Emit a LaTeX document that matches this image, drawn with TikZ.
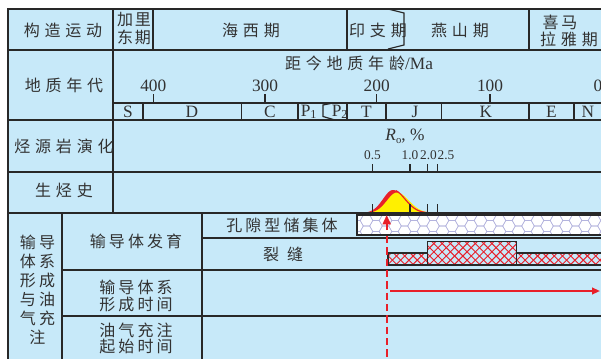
\documentclass[tikz,border=0pt]{standalone}
\usepackage{fontspec}
\setmainfont{Liberation Serif}
\newfontfamily\cjkA[LetterSpace=30]{Noto Sans CJK SC}
\newfontfamily\cjkB[LetterSpace=19]{Noto Sans CJK SC}
\newfontfamily\cjkC[LetterSpace=12]{Noto Sans CJK SC}
\usetikzlibrary{arrows.meta}
\definecolor{bg}{RGB}{199,233,249}
\definecolor{ln}{RGB}{40,40,40}
\definecolor{txt}{RGB}{50,50,50}
\definecolor{rd}{RGB}{232,32,42}
\definecolor{yl}{RGB}{255,240,0}
\definecolor{hx}{RGB}{180,180,222}
\tikzset{
 cnA/.style={font=\cjkA\fontsize{12}{14}\selectfont, text=txt, inner sep=0pt, align=center},
 cnB/.style={font=\cjkB\fontsize{12}{14}\selectfont, text=txt, inner sep=0pt, align=center},
 cnC/.style={font=\cjkC\fontsize{12}{13.5}\selectfont, text=txt, inner sep=0pt, align=center},
 lat/.style={font=\fontsize{13}{13}\selectfont, text=txt, inner sep=0pt},
 sml/.style={font=\fontsize{10}{10}\selectfont, text=txt, inner sep=0pt},
 grid/.style={draw=ln, line width=0.9pt},
 tickln/.style={draw=ln, line width=0.9pt},
 hatchln/.style={draw=rd, line width=0.7pt},
}
\begin{document}
\begin{tikzpicture}[x=0.75pt,y=-0.75pt]
\clip (0,0) rectangle (601,358);
\fill[white] (0,0) rectangle (601,358);
\fill[bg] (8,9) rectangle (605,362);

% curves (generation history)
\fill[rd] plot[domain=358:393, samples=50, smooth] (\x,{213-23*exp(-((\x-393)^2)/(2*100))})
  -- plot[domain=393:432, samples=50, smooth] (\x,{213-23*exp(-((\x-393)^2)/(2*144))}) -- cycle;
\fill[yl] plot[domain=365:397, samples=50, smooth] (\x,{213-20.5*exp(-((\x-397)^2)/(2*100))})
  -- plot[domain=397:440, samples=50, smooth] (\x,{213-20.5*exp(-((\x-397)^2)/(2*144))}) -- cycle;
\draw[rd, line width=0.9pt] plot[domain=396:432, samples=40, smooth] (\x,{213-23*exp(-((\x-393)^2)/(2*144))});

% grid
\draw[grid] (8,362) -- (8,9) -- (605,9);
\draw[grid] (8,50) -- (605,50);
\draw[grid] (8,120) -- (605,120);
\draw[grid] (8,172) -- (605,172);
\draw[grid] (8,213) -- (605,213);
\draw[grid] (113,9) -- (113,213);
\draw[grid] (153,9) -- (153,50);
\draw[grid] (347,9) -- (347,50);
\draw[grid] (388,9) -- (404,13) -- (404,45) -- (388,49);
\draw[grid] (529,9) -- (529,50);
\draw[grid] (113,103) -- (605,103);
\foreach \xx in {143,241.7,298,347,386,441.7,529,574} \draw[grid] (\xx,103) -- (\xx,120);
\draw[grid] (333,103) -- (323,105) -- (323,116.5) -- (335,120);
\draw[grid] (62,213) -- (62,362);
\draw[grid] (202,213) -- (202,362);
\draw[grid] (202,238) -- (605,238);
\draw[grid] (62,270) -- (605,270);
\draw[grid] (62,316) -- (605,316);

% ticks
\foreach \xx in {153.3,265,376.7,490} \draw[tickln] (\xx,94) -- (\xx,103);
\foreach \xx in {372.7,410,427.7,437.3} {
  \draw[tickln] (\xx,164) -- (\xx,172);
  \draw[tickln] (\xx,204) -- (\xx,213);
}

% porous reservoir (honeycomb)
\begin{scope}
\clip (357,215) rectangle (605,235);
\fill[white] (357,215) rectangle (605,235);
\foreach \i in {0,...,28} {
  \foreach \j in {-1,0,1,2} {
    \pgfmathsetmacro\cx{357+\i*9.5}
    \pgfmathsetmacro\cy{215+\j*11+mod(\i,2)*5.5}
    \draw[hx, line width=0.4pt] ({\cx-6.33},\cy) -- ({\cx-3.17},{\cy-5.5}) -- ({\cx+3.17},{\cy-5.5}) -- ({\cx+6.33},\cy) -- ({\cx+3.17},{\cy+5.5}) -- ({\cx-3.17},{\cy+5.5}) -- cycle;
  }
}
\end{scope}
\draw[grid] (605,215) -- (357,215) -- (357,235) -- (605,235);

% fractures (cross-hatch)
\begin{scope}
\clip (388,253) rectangle (605,265) (427.7,241.3) rectangle (516.7,265);
\foreach \k in {340,348.3,...,640} {
  \draw[hatchln] (\k,241) -- (\k+30,271);
  \draw[hatchln] (\k,271) -- (\k+30,241);
}
\end{scope}
\draw[grid] (388,253) -- (427.7,253) -- (427.7,241.3) -- (516.7,241.3) -- (516.7,253) -- (605,253);
\draw[grid] (605,265) -- (388,265) -- cycle;
\draw[grid] (388,253) -- (388,265);
\draw[grid] (427.7,253) -- (427.7,265);
\draw[grid] (516.7,253) -- (516.7,265);

% arrows
\coordinate (vtip) at (386.7,215);
\coordinate (vsol) at (386.7,230);
\coordinate (vdash) at (386.7,236);
\coordinate (vend) at (386.7,362);
\coordinate (hstart) at (390,291);
\coordinate (htip) at (600,291);
\draw[rd, line width=1.5pt, -{Triangle[length=7pt,width=6pt]}] (vsol) -- (vtip);
\draw[rd, line width=1.5pt, dash pattern=on 5.5pt off 3pt] (vdash) -- (vend);
\draw[rd, line width=1.4pt, -{Triangle[length=6pt,width=5pt]}] (hstart) -- (htip);

% texts row 1
\node[cnA] (gz) at (63,30) {构造运动};
\node[cnC, font=\cjkC\fontsize{12}{13.5}\selectfont] (jld) at (134,28.5) {加里\\东期};
\node[cnA] (hxq) at (251,30) {海西期};
\node[cnA] (yzq) at (378,30) {印支期};
\node[cnA] (ysq) at (460,30) {燕山期};
\node[cnA] (xm1) at (560,22) {喜\kern2pt 马};
\node[cnA] (xm2) at (569,39.5) {拉雅期};
% row 2
\node[cnA] (dz) at (64,85.5) {地质年代};
\node[cnA] (jl) at (359,63.5) {距今地质年龄{\rmfamily\fontsize{13}{13}\selectfont /Ma}};
\node[lat] (a400) at (153.3,86) {400};
\node[lat] (a300) at (265,86) {300};
\node[lat] (a200) at (376.7,86) {200};
\node[lat] (a100) at (490,86) {100};
\node[lat] (a0) at (598,86) {0};
\node[lat] (pS) at (128,112) {S};
\node[lat] (pD) at (192,112) {D};
\node[lat] (pC) at (270,112) {C};
\node[lat] (pP1) at (309,112) {P\textsubscript{1}};
\node[lat] (pP2) at (340,112) {P\textsubscript{2}};
\node[lat] (pT) at (366.5,112) {T};
\node[lat] (pJ) at (415,112) {J};
\node[lat] (pK) at (486,112) {K};
\node[lat] (pE) at (551.5,112) {E};
\node[lat] (pN) at (588,112) {N};
% row 3
\node[cnA] (hy) at (64,146.5) {烃源岩演化};
\node[lat] (ro) at (405,136) {\textit{R}\raisebox{-0.35ex}{\fontsize{8}{8}\selectfont o}, \%};
\node[sml] (r05) at (372.5,155.5) {0.5};
\node[sml] (r10) at (410,155.5) {1.0};
\node[sml] (r20) at (428.5,155.5) {2.0};
\node[sml] (r25) at (446,155.5) {2.5};
% row 4
\node[cnA] (st) at (64,190.5) {生烃史};
% lower part
\node[cnB, font=\cjkB\fontsize{12}{14.2}\selectfont] (lc) at (37.5,289.5) {输导\\体系\\形成\\与油\\气充\\注};
\node[cnB] (sd) at (136,241) {输导体发育};
\node[cnB] (kx) at (282,225) {孔隙型储集体};
\node[cnB] (lf) at (283,254.5) {裂\kern6pt 缝};
\node[cnB, font=\cjkB\fontsize{12}{12.7}\selectfont] (xc) at (136,295.5) {输导体系\\形成时间};
\node[cnB, font=\cjkB\fontsize{12}{12.2}\selectfont] (cz) at (136,338.5) {油气充注\\起始时间};
\end{tikzpicture}
\end{document}
